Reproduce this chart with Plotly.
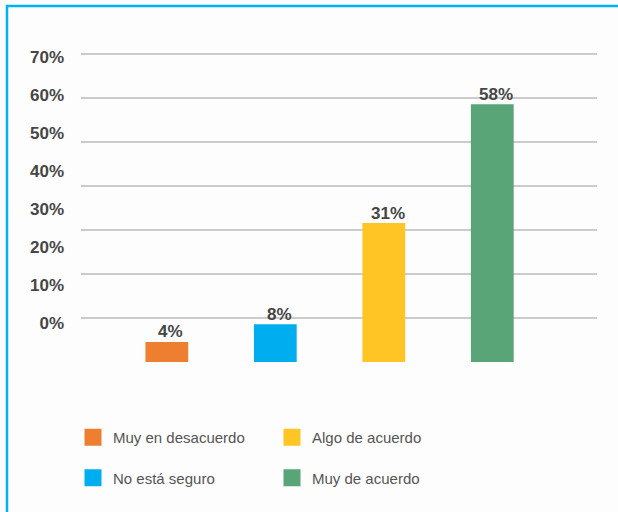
import plotly.graph_objects as go

# Survey responses
categories = ["Muy en desacuerdo", "No está seguro", "Algo de acuerdo", "Muy de acuerdo"]
values = [4, 8, 31, 58]
colors = ["#ef7f30", "#00aeef", "#fec524", "#5aa577"]
value_labels = ["4%", "8%", "31%", "58%"]

# Axis labels drawn on the left
tick_values = [0, 10, 20, 30, 40, 50, 60, 70]
tick_labels = ["0%", "10%", "20%", "30%", "40%", "50%", "60%", "70%"]
grid_values = [10, 20, 30, 40, 50, 60, 70]

W, H = 618, 512
ML, MR, MT, MB = 81, 21, 40, 150
PW, PH = W - ML - MR, H - MT - MB


def px_x(p):
    return (p - ML) / PW


def px_y(p):
    return (H - MB - p) / PH


# left column of the legend: first and second category; right column: the rest
legend_of = {0: "legend", 1: "legend", 2: "legend2", 3: "legend2"}

fig = go.Figure()
for i in [0, 2, 1, 3]:
    fig.add_trace(go.Bar(
        x=[categories[i]], y=[values[i]], name=categories[i],
        # outline in the fill colour also enlarges the legend swatch
        marker=dict(color=colors[i], line=dict(width=5, color=colors[i])),
        width=0.348, legend=legend_of[i], legendgroup=categories[i],
        hoverinfo="skip",
    ))

# value labels above each bar
for c, v, t in zip(categories, values, value_labels):
    fig.add_annotation(
        x=c, y=v, text=t, showarrow=False, yanchor="bottom", xanchor="center",
        yshift=1, xshift=4,
        font=dict(family="Liberation Sans, Arial, sans-serif", size=17,
                  color="#454545", weight="bold"),
    )

# frame lines (top and left)
frame = "#00b2ef"
fig.add_shape(type="line", xref="paper", yref="paper",
              x0=px_x(6), x1=px_x(W + 2), y0=px_y(6), y1=px_y(6),
              line=dict(color=frame, width=2.5))
fig.add_shape(type="line", xref="paper", yref="paper",
              x0=px_x(7), x1=px_x(7), y0=px_y(5), y1=px_y(H + 2),
              line=dict(color=frame, width=2.5))

legend_font = dict(family="Liberation Sans, Arial, sans-serif", size=15, color="#555555")

fig.update_layout(
    width=W, height=H,
    margin=dict(l=ML, r=MR, t=MT, b=MB),
    paper_bgcolor="#fdfdfd", plot_bgcolor="#fdfdfd",
    barmode="overlay",
    showlegend=True,
    xaxis=dict(
        type="category", categoryorder="array", categoryarray=categories,
        range=[-0.791, 3.965], showticklabels=False, showgrid=False,
        zeroline=False, showline=False, ticks="", fixedrange=True,
    ),
    yaxis=dict(
        range=[0, PH / 4.40], tickvals=grid_values, showticklabels=False,
        showgrid=True, gridcolor="#cccccc", gridwidth=2,
        zeroline=False, showline=False, ticks="",
    ),
    yaxis2=dict(
        overlaying="y", side="left", range=[-10.18, 74.55],
        tickvals=tick_values, ticktext=tick_labels,
        showgrid=False, zeroline=False, showline=False, ticks="",
        ticklabelstandoff=16,
        tickfont=dict(family="Liberation Sans, Arial, sans-serif", size=17,
                      color="#464646", weight="bold"),
    ),
    legend=dict(
        x=px_x(73), y=px_y(421), xanchor="left", yanchor="top",
        orientation="v", traceorder="grouped", tracegroupgap=18,
        font=legend_font, bgcolor="rgba(0,0,0,0)",
    ),
    legend2=dict(
        x=px_x(272), y=px_y(421), xanchor="left", yanchor="top",
        orientation="v", traceorder="grouped", tracegroupgap=18,
        font=legend_font, bgcolor="rgba(0,0,0,0)",
    ),
)

# an invisible trace anchors the label axis so its ticks are drawn
fig.add_trace(go.Scatter(x=[categories[0]], y=[0], yaxis="y2", mode="markers",
                         marker=dict(opacity=0), showlegend=False, hoverinfo="skip"))

fig.write_html("out.html")
